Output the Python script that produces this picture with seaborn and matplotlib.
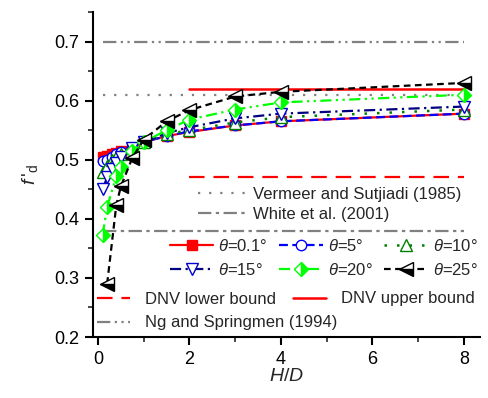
import matplotlib
matplotlib.use("Agg")
import matplotlib.pyplot as plt
import seaborn as sns
import numpy as np
import pandas as pd

sns.set_theme(style="ticks")
plt.rcParams['font.family'] = ['Liberation Sans', 'DejaVu Sans']
plt.rcParams['mathtext.fontset'] = 'custom'
plt.rcParams['mathtext.rm'] = 'Liberation Sans'
plt.rcParams['mathtext.it'] = 'Liberation Sans:italic'

# ---- data ----
hd_full = [0.1, 0.2, 0.3, 0.4, 0.5, 0.75, 1, 1.5, 2, 3, 4, 8]
hd_20 = [0.1, 0.2, 0.4, 0.5, 0.75, 1, 1.5, 2, 3, 4, 8]
hd_25 = [0.2, 0.4, 0.5, 0.75, 1, 1.5, 2, 3, 4, 8]

f_01 = [0.505, 0.507, 0.510, 0.512, 0.515, 0.520, 0.530, 0.540, 0.547, 0.558, 0.565, 0.578]
f_05 = [0.497, 0.500, 0.505, 0.510, 0.513, 0.520, 0.530, 0.540, 0.548, 0.558, 0.565, 0.578]
f_10 = [0.480, 0.490, 0.500, 0.505, 0.510, 0.520, 0.530, 0.543, 0.550, 0.563, 0.572, 0.585]
f_15 = [0.450, 0.470, 0.485, 0.495, 0.505, 0.520, 0.530, 0.545, 0.555, 0.570, 0.578, 0.590]
f_20 = [0.372, 0.420, 0.472, 0.488, 0.515, 0.530, 0.550, 0.568, 0.585, 0.597, 0.610]
f_25 = [0.290, 0.423, 0.455, 0.503, 0.534, 0.565, 0.584, 0.607, 0.615, 0.630]

ref_x = [0.1, 8]
vermeer = [0.61, 0.61]
white = [0.38, 0.38]
ng = [0.70, 0.70]
dnv_x = [2, 8]
dnv_lower = [0.47, 0.47]
dnv_upper = [0.62, 0.62]

labels_theta = [r"$\theta$=0.1°", r"$\theta$=5°", r"$\theta$=10°",
                r"$\theta$=15°", r"$\theta$=20°", r"$\theta$=25°"]

W, H = 489, 398
fig = plt.figure(figsize=(W / 100, H / 100), dpi=100)
ax = fig.add_axes([93 / W, 1 - 337 / H, (480 - 93) / W, (337 - 12) / H])

def line(x, y, **kw):
    df = pd.DataFrame({"x": x, "y": y})
    sns.lineplot(data=df, x="x", y="y", ax=ax, sort=False, estimator=None,
                 errorbar=None, **kw)
    return ax.lines[-1]

gray = "#808080"
h_ng = line(ref_x, ng, color=gray, lw=1.6, dashes=(6, 2, 1, 2, 1, 2), label="Ng and Springmen (1994)")
h_white = line(ref_x, white, color=gray, lw=1.6, dashes=(6, 2, 1.5, 2), label="White et al. (2001)")
h_ver = line(ref_x, vermeer, color=gray, lw=1.6, dashes=(1, 4), label="Vermeer and Sutjiadi (1985)")
h_lo = line(dnv_x, dnv_lower, color="#FF0000", lw=1.6, dashes=(7, 4), label="DNV lower bound")
h_up = line(dnv_x, dnv_upper, color="#FF0000", lw=1.8, label="DNV upper bound")

ms = 7.5
h1 = line(hd_full, f_01, color="#FF0000", lw=1.6, marker="s", markersize=ms,
          markerfacecolor="#FF0000", markeredgecolor="#FF0000", markeredgewidth=1, label=labels_theta[0])
h2 = line(hd_full, f_05, color="#0000FF", lw=1.6, dashes=(4, 2), marker="o", markersize=ms,
          markerfacecolor="white", markeredgecolor="#0000FF", markeredgewidth=1, label=labels_theta[1])
h3 = line(hd_full, f_10, color="#008000", lw=1.8, dashes=(1, 4), marker="^", markersize=ms + 1,
          markerfacecolor="white", markeredgecolor="#008000", markeredgewidth=1, label=labels_theta[2])
h4 = line(hd_full, f_15, color="#000080", lw=1.6, dashes=(5, 2, 1, 2), marker="v", markersize=ms + 1,
          markerfacecolor="white", markeredgecolor="#0000CC", markeredgewidth=1, label=labels_theta[3])
h5 = line(hd_20, f_20, color="#00FF00", lw=1.6, dashes=(5, 2, 1, 2, 1, 2), marker="D", markersize=ms,
          fillstyle="right", markerfacecolor="#00FF00", markerfacecoloralt="white",
          markeredgecolor="#00FF00", markeredgewidth=1, label=labels_theta[4])
h6 = line(hd_25, f_25, color="black", lw=1.6, dashes=(3, 2), marker="<", markersize=ms + 2,
          fillstyle="bottom", markerfacecolor="black", markerfacecoloralt="white",
          markeredgecolor="black", markeredgewidth=1, label=labels_theta[5])

ax.set_xlim(-0.109, 8.35)
ax.set_ylim(0.2, 0.75)
ax.set_xticks([0, 2, 4, 6, 8])
ax.set_xticks([1, 3, 5, 7], minor=True)
ax.set_yticks([0.2, 0.3, 0.4, 0.5, 0.6, 0.7])
ax.set_yticks(np.arange(0.25, 0.76, 0.1), minor=True)
ax.yaxis.set_major_formatter(matplotlib.ticker.FormatStrFormatter("%.1f"))
ax.tick_params(axis="both", which="major", direction="out", length=6, width=1.5,
               labelsize=13, colors="black", pad=4)
ax.tick_params(axis="both", which="minor", direction="out", length=3.5, width=1.2)
for s in ["top", "right"]:
    ax.spines[s].set_visible(False)
for s in ["left", "bottom"]:
    ax.spines[s].set_linewidth(1.5)
    ax.spines[s].set_color("black")

ax.set_xlabel(r"$H$/$D$", fontsize=14, labelpad=0)
ax.set_ylabel(r"$f\,'_{\mathrm{d}}$", fontsize=14, labelpad=10)

if ax.get_legend() is not None:
    ax.get_legend().remove()

common = dict(frameon=False, fontsize=12, borderpad=0, borderaxespad=0,
              loc="center left", bbox_transform=fig.transFigure)

leg1 = fig.legend(handles=[h_ver, h_white], handlelength=3.0, handletextpad=0.3,
                  labelspacing=0.3, bbox_to_anchor=(198 / W, 1 - 204 / H), **common)
leg2 = fig.legend(handles=[h1, h4, h2, h5, h3, h6], ncol=3, handlelength=2.6,
                  handletextpad=0.3, columnspacing=0.7, labelspacing=0.45,
                  bbox_to_anchor=(170 / W, 1 - 258 / H), **common)
leg3 = fig.legend(handles=[h_lo, h_up], ncol=2, handlelength=2.0,
                  handletextpad=0.9, columnspacing=1.0,
                  bbox_to_anchor=(97 / W, 1 - 299 / H), **common)
leg4 = fig.legend(handles=[h_ng], handlelength=2.0, handletextpad=0.9,
                  bbox_to_anchor=(97 / W, 1 - 323 / H), **common)

fig.savefig("out.png", dpi=100)
